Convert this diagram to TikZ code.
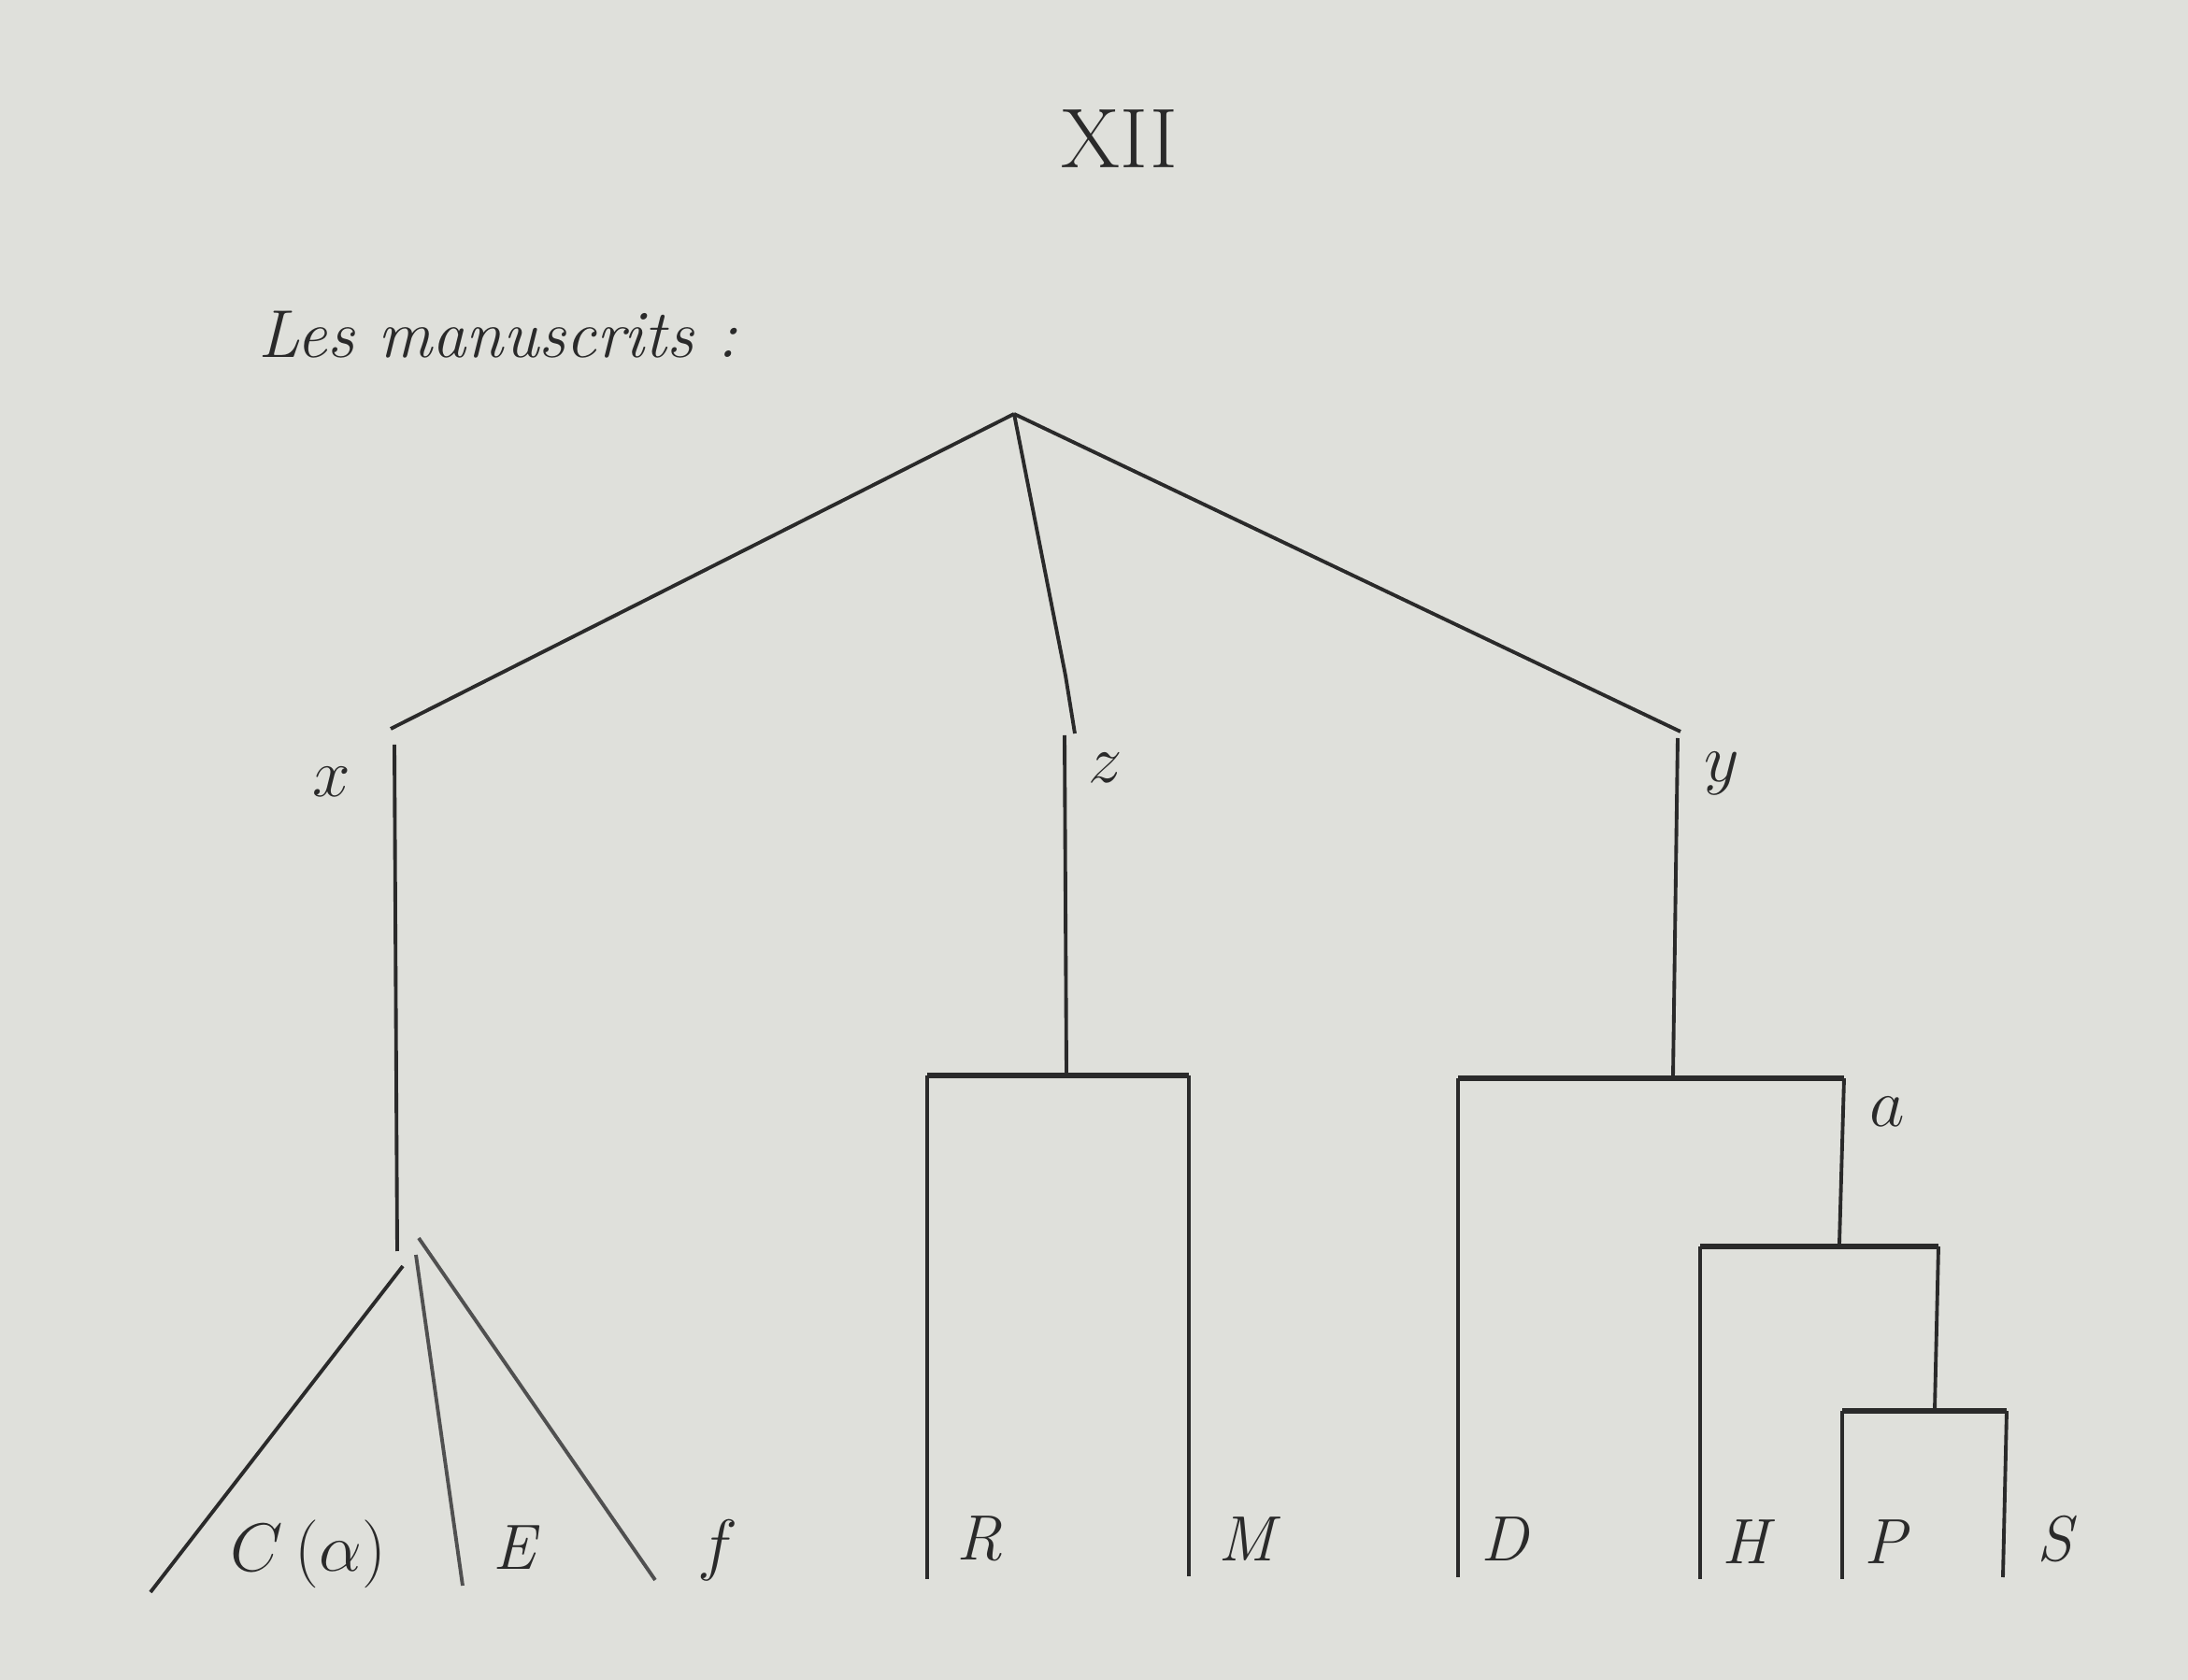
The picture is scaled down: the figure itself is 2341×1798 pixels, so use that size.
\documentclass[tikz,border=0pt]{standalone}
\definecolor{paper}{RGB}{223,224,219}
\definecolor{ink}{RGB}{42,42,42}
\definecolor{inkl}{RGB}{80,80,80}
\begin{document}
\begin{tikzpicture}[x=0.01cm,y=-0.01cm,
  edge/.style={draw=ink,line width=1.1pt},
  edgel/.style={draw=inkl,line width=1.1pt},
  bracket/.style={draw=ink,line width=1.1pt,line join=miter},
  bar/.style={draw=ink,line width=1.6pt},
  lbl/.style={inner sep=0pt,text=ink,font=\fontsize{19.5}{20}\selectfont\itshape},
  mlbl/.style={inner sep=0pt,text=ink,font=\fontsize{19.5}{20}\selectfont}]
\fill[paper] (0,0) rectangle (2341,1798);
\useasboundingbox (0,0) rectangle (2341,1798);

% texts
\node[inner sep=0pt,anchor=base,text=ink,font=\fontsize{25.8}{26}\selectfont] (title) at (1198,180) {XII};
\node[inner sep=0pt,anchor=base west,text=ink,font=\fontsize{20.6}{21}\selectfont\itshape] (heading) at (276,383) {Les manuscrits :};

% junction points
\coordinate (root) at (1085,443);
\coordinate (xend) at (418,780);
\coordinate (xv1) at (422,797);
\coordinate (xv2) at (425,1339);
\coordinate (c1) at (431,1355);
\coordinate (c2) at (161,1704);
\coordinate (e1) at (445,1343);
\coordinate (e2) at (495,1697);
\coordinate (f1) at (448,1325);
\coordinate (f2) at (701,1691);
\coordinate (zbend) at (1140,723);
\coordinate (zend) at (1150,785);
\coordinate (zv1) at (1139,787);
\coordinate (zv2) at (1141,1148);
\coordinate (yend) at (1798,783);
\coordinate (yv1) at (1795,790);
\coordinate (yv2) at (1790,1153);

\coordinate (rmL) at (992,1151);
\coordinate (rmR) at (1272,1151);
\coordinate (daL) at (1560,1154);
\coordinate (daR) at (1973,1154);
\coordinate (hL) at (1819,1334);
\coordinate (hR) at (2074,1334);
\coordinate (psL) at (1971,1510);
\coordinate (psR) at (2147,1510);

% leaf labels
\node[mlbl] (C) at (330,1663) {$C\,(\alpha)$};
\node[lbl] (E) at (550,1656) {E};
\node[mlbl] (f) at (768,1659) {$f$};
\node[lbl] (R) at (1048,1647) {R};
\node[lbl] (M) at (1334,1647) {M};
\node[lbl] (D) at (1610,1647) {D};
\node[lbl] (H) at (1867,1650) {H};
\node[lbl] (P) at (2017,1650) {P};
\node[lbl] (S) at (2198,1647) {S};
\coordinate (Rb) at (992,1690);
\coordinate (Mb) at (1272,1687);
\coordinate (Db) at (1560,1688);
\coordinate (Hb) at (1819,1690);
\coordinate (Pb) at (1971,1690);
\coordinate (Sb) at (2143,1688);
\coordinate (aj) at (1968,1331);
\coordinate (hj) at (2070,1509);

% hyparchetype labels
\node[mlbl] (xl) at (355,837) {$x$};
\node[mlbl] (zl) at (1183,822) {$z$};
\node[mlbl] (yl) at (1842,828) {$y$};
\node[mlbl] (al) at (2019,1190) {$a$};

% branches from the archetype
\draw[edge] (root) -- (xend);
\draw[edge] (root) -- (zbend) -- (zend);
\draw[edge] (root) -- (yend);

% x branch
\draw[edge] (xv1) -- (xv2);
\draw[edge] (c1) -- (c2);
\draw[edgel] (e1) -- (e2);
\draw[edgel] (f1) -- (f2);

% z branch
\draw[edge] (zv1) -- (zv2);
\draw[bracket] (Rb) -- (rmL);
\draw[bar] (rmL) -- (rmR);
\draw[bracket] (rmR) -- (Mb);

% y branch
\draw[edge] (yv1) -- (yv2);
\draw[bracket] (Db) -- (daL);
\draw[bar] (daL) -- (daR);
\draw[bracket] (daR) -- (aj);
\draw[bracket] (Hb) -- (hL);
\draw[bar] (hL) -- (hR);
\draw[bracket] (hR) -- (hj);
\draw[bracket] (Pb) -- (psL);
\draw[bar] (psL) -- (psR);
\draw[bracket] (psR) -- (Sb);
\end{tikzpicture}
\end{document}
